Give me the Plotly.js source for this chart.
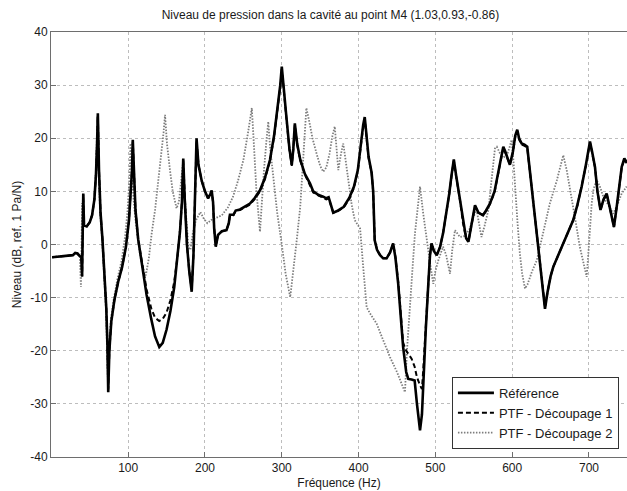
<!DOCTYPE html>
<html>
<head>
<meta charset="utf-8">
<script src="https://cdn.plot.ly/plotly-3.0.1.min.js"></script>
<style>html,body{margin:0;padding:0;background:#fff;}#chart{width:627px;height:491px;}</style>
</head>
<body>
<div id="chart"></div>
<script>
// Référence
const freqRef = [1,10,20,28,31,34,37,39,40,41.5,42.5,46,50,53,56,58,59.5,60.5,62,64,66.5,69,71.5,73,74,75.5,78,82,87,92,97,101,103.5,105,106,107.5,109.5,113,118,124,130,135,140.5,145,150,155,160,164,167.5,170,171.7,173.5,176.5,179.5,182.7,185,187,189,191.5,195.7,200,204,207,208.7,210.5,212,214,217,222,228,231,232.5,237,240,245.6,252,258.6,265,271.6,278,284.6,290,295,298,300,302,306,310,313,315,317,320,324,330,336.7,341,348,354,358,361,364,367,372,380.7,388,394,399,403,406,408,410.5,413,417,419,421,424,428,432,436.5,441,445,448,451.6,455,458,462,464.7,469,473,476,480,482.5,484,487.5,490.8,493,495,498,501.7,506,510,514,518,521,524,527,532,536,540,543,547,551.6,556,562,566,571,577,582,586,588.4,591,597,601,604,606.6,609,612.3,616,619.6,624,629.7,633,636,640,642.7,646,650,653.5,660,666.5,673,679.5,685,690.5,696,701.3,704,707.8,711,715,719,723,727,732.5,736,740,742.6,746,749];
const levelRef = [-2.4,-2.3,-2.2,-2.0,-1.6,-1.7,-2.2,-2.3,-6,9.6,3.6,3.4,4.2,5.5,8.5,13,19,24.7,14,6,1,-5,-12,-19,-27.8,-20,-14.5,-10.5,-7,-4.3,-0.5,4.5,9.5,14,19.7,13,6.5,1,-4,-9.5,-14,-17.3,-19.3,-18.5,-16,-12.5,-8,-3,2.5,8,16.2,9,0,-5,-8.9,-2,8,20,15,12,10,8.7,9.5,10.2,8,3,-0.4,1.8,2.5,2.7,4,5.6,5.6,6.4,6.6,7.2,7.7,8.8,10.2,12.5,15.9,20.5,26,30,33.5,30,24,18,15,18,22.8,19,16,13.3,11.5,10,9.3,9,8.7,8.9,7.5,6,6.3,7.1,8.8,10.9,14,19,22.5,24,20,16.5,13.5,10,0.8,-1,-2,-2.6,-2.6,-1.5,0.2,-2.5,-7.4,-13,-19.3,-24,-25.3,-25.4,-25.6,-30,-35,-32,-26.2,-16,-7.4,-2,0.2,-1.2,-2,-0.5,2.1,5.5,9.5,13,16,13,8.4,4,1.2,0.5,3.5,7.4,6,5.5,6.4,7.7,10,13.4,16.5,18.4,17.5,15,17.5,20.5,21.6,20,19,18.8,18.4,12.5,5.2,0.5,-3.6,-9.5,-12.1,-9,-6,-4.2,-2,0.2,2.3,4.6,7.5,10.9,15,19.4,17.5,14.6,10,6.5,8.5,9.6,7,3.3,7,12,14.6,16.2,15.5];

// PTF - Découpage 1
const freqPtf1 = [1,10,20,28,31,34,37,39,40,41.5,42.5,46,50,53,56,58,59.5,60.5,62,64,66.5,69,71.5,73,74,75.5,78,82,87,92,97,101,103.5,105,106,107.5,109.5,113,118,124,130,135,140.5,145,150,155,160,164,167.5,170,171.7,173.5,176.5,179.5,182.7,185,187,189,191.5,195.7,200,204,207,208.7,210.5,212,214,217,222,228,231,232.5,237,240,245.6,252,258.6,265,271.6,278,284.6,290,295,298,300,302,306,310,313,315,317,320,324,330,336.7,341,348,354,358,361,364,367,372,380.7,388,394,399,403,406,408,410.5,413,417,419,421,424,428,432,436.5,441,445,448,451.6,455,458,462,464.7,469,473,476,480,482.5,484,487.5,490.8,493,495,498,501.7,506,510,514,518,521,524,527,532,536,540,543,547,551.6,556,562,566,571,577,582,586,588.4,591,597,601,604,606.6,609,612.3,616,619.6,624,629.7,633,636,640,642.7,646,650,653.5,660,666.5,673,679.5,685,690.5,696,701.3,704,707.8,711,715,719,723,727,732.5,736,740,742.6,746,749];
const levelPtf1 = [-2.4,-2.3,-2.2,-2.0,-1.6,-1.7,-2.2,-2.3,-6,9.4,3.6,3.4,4.2,5.5,8.5,13,19,24.3,14,6,1,-5,-12,-19,-27.3,-20,-14.5,-10.5,-7,-4.3,-0.5,4.5,9.5,14,19.4,13,6.5,1,-3.5,-8.5,-12,-13.8,-14.4,-14,-12.8,-10.5,-7,-2.5,2.7,8,15.8,9,0,-5,-8.5,-2,8,19.6,15,12,10,8.7,9.4,10,8,3,-0.2,1.8,2.5,2.7,4,5.5,5.5,6.3,6.5,7,7.5,8.6,10,12.3,15.7,20.3,25.7,29.6,33,29.6,23.8,17.8,14.8,17.8,22.5,18.8,15.8,13.2,11.3,9.8,9.2,8.8,8.5,8.7,7.4,6,6.2,7,8.6,10.7,13.8,18.8,22.2,23.6,19.8,16.3,13.4,10,0.8,-1,-2,-2.6,-2.6,-1.5,0.2,-2.4,-7,-12.5,-18.5,-20,-20.6,-21.5,-23,-25,-26.5,-27.2,-24,-15,-7.4,-2,0.2,-1.2,-2,-0.5,2.1,5.5,9.4,12.8,15.8,12.8,8.4,4,1.2,0.5,3.4,7.2,6,5.5,6.3,7.6,9.8,13.2,16.3,18.2,17.3,15,17.3,20.3,21.3,19.8,18.8,18.6,18.2,12.3,5.2,0.5,-3.6,-9.3,-11.8,-9,-6,-4.2,-2,0.2,2.3,4.6,7.4,10.8,14.8,19.2,17.3,14.6,10,6.5,8.4,9.5,7,3.3,7,11.8,14.4,16,15.3];

// PTF - Découpage 2
const freqPtf2 = [1,10,20,28,31,34,37,38.5,40,41.5,46,50,53,56,58,59.5,60,61.5,63.5,66,68.5,71,73.5,75,77.5,81,86,91.5,96,99,101.5,103,105,107,110,115,119,123,127,130.5,135,139,143,146,148,150.5,154.4,158,163,166,169,171,173,176,178.5,181,184,188,194,198,203,208,215,222,230,236.5,243,250,256,261,264,267,271.6,274,276.8,280,282.4,285,289,294,300,305,311,316,320,324,328,332,336,340,345.5,350,354,358,362,366,369,371.5,373.6,377,380,383,386.6,391,395,400,402,406,410.5,415,423.5,432,440.9,450,460.4,463,467,470,473.4,477,480,484,488.6,493,497.3,500,503.8,510,514,519,522,525.5,532,538,545,549,553.7,557,560,564,569,573,577.6,580,584,590,593,596,599.3,601.5,603.6,607,610,613,616.7,620,626,632,640,649,658,666.5,671,677.4,683,688,693,697,700,703.5,706,710,714,718.6,725,731.6,737,742.6,749];
const levelPtf2 = [-2.4,-2.3,-2.2,-2.0,-1.6,-1.7,-2.2,-8,7.8,4,3.4,4.2,5.5,8.5,13,19,24,14,6,1,-5,-12,-25,-19,-14,-10.5,-6.5,-3,1.5,6,12,19,13,8.5,4,-1.5,-4.5,-5.8,-2.5,2,6.5,11.5,16.5,21,24.4,19,14,10,6.8,8,12,15,10,4,-0.5,-1,2,4.5,6.1,5,4,4.6,5,5.5,7,9,12,15.9,21,25.7,18,10,2.4,8,14,19.5,23.1,18,12.8,6,0,-5.5,-9.9,-4,1.5,7.1,16,25.7,23,20,17,14.8,13.7,14.5,17,20.5,22.2,18,14,17,19,16,12.1,7.5,4.6,3.3,3,-4.2,-11.8,-13,-14.9,-18,-21.2,-24,-27.8,-20,-12.4,-5,2.1,7.5,10.9,6,0.8,-3.5,-7.4,-5,-3,-0.4,-2,-5.5,-1,2.7,1.4,1.6,3,5,6.5,3.5,1.4,3.5,6.5,12,18.1,18.4,17.2,16.5,16.8,18,19.7,16,10.9,4,-1.7,-5.5,-8.3,-7.5,-5,-3,2,7.7,12,16.8,14,9,4,-0.4,-3.5,-6.1,0,7.7,10.5,12.1,11,9,7.5,5.8,7.5,9.6,10.9];

const xTicks = [100,200,300,400,500,600,700];
const yTicks = [-40,-30,-20,-10,0,10,20,30,40];
const seriesNames = ['Référence','PTF - Découpage 1','PTF - Découpage 2'];

const FONT = '"Liberation Sans", Arial, Helvetica, sans-serif';

const traces = [
  {x: freqPtf2, y: levelPtf2, name: seriesNames[2], mode: 'lines',
   line: {color: '#7d7d7d', width: 1.8, dash: '1.5px,1.5px'}, legendrank: 3},
  {x: freqPtf1, y: levelPtf1, name: seriesNames[1], mode: 'lines',
   line: {color: '#000', width: 2, dash: '5px,3px'}, legendrank: 2},
  {x: freqRef, y: levelRef, name: seriesNames[0], mode: 'lines',
   line: {color: '#000', width: 2.6}, legendrank: 1}
];

const layout = {
  width: 627, height: 491,
  margin: {l: 51, r: 0, t: 32, b: 34},
  paper_bgcolor: '#fff', plot_bgcolor: '#fff',
  font: {family: FONT, size: 12, color: '#1a1a1a'},
  title: {text: 'Niveau de pression dans la cavité au point M4 (1.03,0.93,-0.86)',
          font: {family: FONT, size: 12, color: '#1a1a1a'},
          xref: 'container', x: 0.527, xanchor: 'center',
          yref: 'container', y: 0.969, yanchor: 'middle'},
  xaxis: {range: [-0.5, 749.5], tickvals: xTicks, ticktext: xTicks.map(String),
          showgrid: true, gridcolor: '#bdbdbd', griddash: 'dot', gridwidth: 1,
          zeroline: false, showline: true, mirror: true, linecolor: '#6e6e6e', linewidth: 1,
          ticks: 'inside', ticklen: 5, tickcolor: '#6e6e6e',
          tickfont: {family: FONT, size: 12, color: '#1a1a1a'},
          title: {text: 'Fréquence (Hz)', font: {family: FONT, size: 12, color: '#1a1a1a'}, standoff: 4}},
  yaxis: {range: [-40, 40], tickvals: yTicks, ticktext: yTicks.map(String),
          showgrid: true, gridcolor: '#bdbdbd', griddash: 'dot', gridwidth: 1,
          zeroline: false, showline: true, mirror: true, linecolor: '#6e6e6e', linewidth: 1,
          ticks: 'inside', ticklen: 5, tickcolor: '#6e6e6e',
          tickfont: {family: FONT, size: 12, color: '#1a1a1a'},
          title: {text: 'Niveau (dB, ref. 1 Pa/N)', font: {family: FONT, size: 12, color: '#1a1a1a'}, standoff: 6}},
  showlegend: true,
  legend: {x: 0.986, xanchor: 'right', y: 0.019, yanchor: 'bottom',
           bgcolor: '#fff', bordercolor: '#333', borderwidth: 1,
           font: {family: FONT, size: 13, color: '#1a1a1a'},
           tracegroupgap: 0, itemwidth: 36,
           traceorder: 'normal'}
};

Plotly.newPlot('chart', traces, layout, {displayModeBar: false, staticPlot: true});
</script>
</body>
</html>
